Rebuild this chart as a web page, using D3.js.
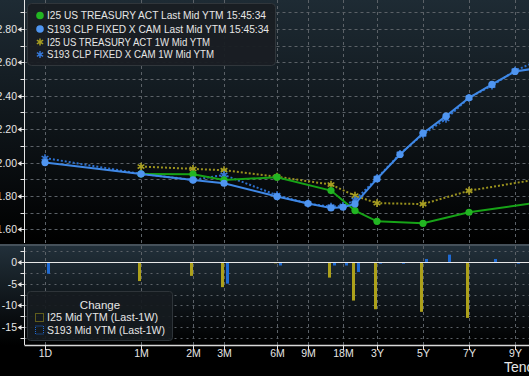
<!DOCTYPE html>
<html>
<head>
<meta charset="utf-8">
<script src="https://cdn.jsdelivr.net/npm/d3@7/dist/d3.min.js"></script>
<style>
  html, body { margin: 0; padding: 0; background: #000; }
  svg { display: block; font-family: "Liberation Sans Narrow", "Liberation Sans", sans-serif; }
</style>
</head>
<body>
<svg id="chart" width="529" height="376"></svg>
<script>
/* Yield curve snapshot: two curves, last vs 1W ago, plus bp change bars. */

// ---- data ----
var tenors     = ["1D", "1M", "2M", "3M", "6M", "9M", "1Y", "18M", "2Y", "3Y", "4Y", "5Y", "6Y", "7Y", "8Y", "9Y", "10Y"];
var tenorYears = [1 / 365, 1 / 12, 2 / 12, 0.25, 0.5, 0.75, 1, 1.5, 2, 3, 4, 5, 6, 7, 8, 9, 10];
var axisTenors = ["1D", "1M", "2M", "3M", "6M", "9M", "18M", "3Y", "5Y", "7Y", "9Y"];

var i25Last  = [null, 1.932, 1.930, 1.896, 1.912, null, 1.832, null, 1.712, 1.648, null, 1.636, null, 1.702, null, null, 1.760];
var i25Week  = [null, 1.976, 1.962, 1.954, 1.915, null, 1.868, null, 1.801, 1.757, null, 1.751, null, 1.831, null, null, 1.900];
var s193Last = [2.000, 1.932, 1.896, 1.876, 1.796, 1.754, 1.728, 1.732, 1.752, 1.902, 2.048, 2.176, 2.278, 2.388, 2.468, 2.546, 2.566];
var s193Week = [2.027, 1.932, 1.896, 1.926, 1.804, 1.754, 1.736, 1.740, 1.775, 1.906, 2.052, 2.169, 2.261, 2.388, 2.461, 2.550, 2.611];

var i25Chg  = [null, -4.4, -3.2, -5.8, -0.3, null, -3.6, null, -8.9, -10.9, null, -11.5, null, -12.9, null, null, -14.0];
var s193Chg = [-2.7, 0, 0, -5.0, -0.8, 0, -0.8, -0.8, -2.3, -0.4, -0.4, 0.7, 1.7, 0, 0.7, -0.4, -4.5];

var yieldMajor = [1.6, 1.8, 2.0, 2.2, 2.4, 2.6, 2.8];
var yieldMinor = [1.7, 1.9, 2.1, 2.3, 2.5, 2.7, 2.9];
var chgMajor   = [0, -5, -10, -15];
var chgMinor   = [2.5, -2.5, -7.5, -12.5, -17.5];

var legendTop = [
  "I25 US TREASURY ACT Last Mid YTM 15:45:34",
  "S193 CLP FIXED X CAM Last Mid YTM 15:45:34",
  "I25 US TREASURY ACT 1W Mid YTM",
  "S193 CLP FIXED X CAM 1W Mid YTM"
];
var legendBottom = ["I25 Mid YTM (Last-1W)", "S193 Mid YTM (Last-1W)"];

// ---- layout ----
var W = 529, H = 376;
var axisX = 24.5;
var panelTop = { y0: 0, y1: 243 };
var panelBot = { y0: 246, y1: 345 };
// Bloomberg tenor axis is not a plain time scale: piecewise spacing
var tenorSlots = [45, 141, 193, 224, 277, 308, 331, 343, 355, 377, 400, 423, 446, 469, 492, 515, 538];

var col = {
  green: "#17a317", greenDot: "#22b522",
  blue: "#3f88e6", blueDot: "#4f95f0",
  olive: "#9a921e", blueWk: "#2c6fcc",
  barY: "#ada11b", barB: "#1f6bd4",
  grid: "#5b6167", text: "#e6e6e6"
};

var x = d3.scaleLinear().domain(tenorYears).range(tenorSlots);
var yTop = d3.scaleLinear().domain([1.6, 2.8]).range([229.3, 29]);
var yBot = d3.scaleLinear().domain([0, -15]).range([262, 327]);

var svg = d3.select("#chart");
svg.append("rect").attr("width", W).attr("height", H).attr("fill", "#000");

var defs = svg.append("defs");
function grad(id, c0) {
  var g = defs.append("linearGradient").attr("id", id).attr("x1", 0).attr("y1", 0).attr("x2", 0).attr("y2", 1);
  g.append("stop").attr("offset", "0%").attr("stop-color", c0);
  g.append("stop").attr("offset", "100%").attr("stop-color", "#000");
}
grad("gTop", "#1e2b34");
grad("gBot", "#22303a");
defs.append("clipPath").attr("id", "clipTop").append("rect")
  .attr("x", axisX).attr("y", panelTop.y0).attr("width", W - axisX).attr("height", panelTop.y1 - panelTop.y0);

svg.append("rect").attr("x", 0).attr("y", panelTop.y0).attr("width", W).attr("height", panelTop.y1 - panelTop.y0).attr("fill", "url(#gTop)");
svg.append("rect").attr("x", 0).attr("y", panelBot.y0).attr("width", W).attr("height", panelBot.y1 - panelBot.y0).attr("fill", "url(#gBot)");
svg.append("rect").attr("x", 0).attr("y", panelTop.y1 + 1).attr("width", W).attr("height", 2).attr("fill", "#46515a");

// ---- grid ----
var grid = svg.append("g").attr("stroke", col.grid).attr("stroke-width", 1);
yieldMajor.concat(yieldMinor).forEach(function (v) {
  var yy = Math.round(yTop(v)) + 0.5;
  grid.append("line").attr("x1", axisX).attr("x2", W).attr("y1", yy).attr("y2", yy).attr("stroke-dasharray", "3,3");
});
chgMajor.concat(chgMinor).forEach(function (v) {
  if (v === 0) return;
  var yy = Math.round(yBot(v)) + 0.5;
  grid.append("line").attr("x1", axisX).attr("x2", W).attr("y1", yy).attr("y2", yy).attr("stroke-dasharray", "2,4");
});
axisTenors.forEach(function (t) {
  var xx = Math.round(x(tenorYears[tenors.indexOf(t)])) + 0.5;
  grid.append("line").attr("x1", xx).attr("x2", xx).attr("y1", panelTop.y0).attr("y2", panelTop.y1).attr("stroke-dasharray", "3,3");
  grid.append("line").attr("x1", xx).attr("x2", xx).attr("y1", panelBot.y0).attr("y2", panelBot.y1).attr("stroke-dasharray", "3,3");
});

// ---- left axes ----
var ax = svg.append("g").attr("fill", col.text).attr("stroke", col.text);
ax.append("line").attr("x1", axisX).attr("x2", axisX).attr("y1", panelTop.y0).attr("y2", panelTop.y1);
ax.append("line").attr("x1", axisX).attr("x2", axisX).attr("y1", panelBot.y0 + 1).attr("y2", panelBot.y1);
function majorTick(yy, label) {
  ax.append("path").attr("stroke", "none")
    .attr("d", "M17.5," + yy + "L21.5," + (yy - 2.5) + "L21.5," + (yy + 2.5) + "Z");
  ax.append("line").attr("x1", 21).attr("x2", axisX).attr("y1", yy).attr("y2", yy);
  ax.append("text").attr("stroke", "none").attr("x", 17).attr("y", yy).attr("dy", "0.35em")
    .attr("text-anchor", "end").attr("font-size", 10.5).text(label);
}
function minorTick(yy) {
  ax.append("line").attr("x1", 20.5).attr("x2", axisX).attr("y1", yy).attr("y2", yy);
}
yieldMajor.forEach(function (v) { majorTick(Math.round(yTop(v)) + 0.5, d3.format(".2f")(v)); });
yieldMinor.forEach(function (v) { minorTick(Math.round(yTop(v)) + 0.5); });
chgMajor.forEach(function (v) { majorTick(Math.round(yBot(v)) + 0.5, String(v)); });
chgMinor.forEach(function (v) { minorTick(Math.round(yBot(v)) + 0.5); });

// ---- change bars ----
var bars = svg.append("g");
tenors.forEach(function (t, i) {
  var xx = x(tenorYears[i]);
  [[i25Chg[i], -3, col.barY], [s193Chg[i], 2, col.barB]].forEach(function (b) {
    if (b[0] == null || b[0] === 0) return;
    var y0 = yBot(0), y1 = yBot(b[0]);
    bars.append("rect").attr("x", xx + b[1]).attr("width", 3)
      .attr("y", Math.min(y0, y1)).attr("height", Math.abs(y1 - y0)).attr("fill", b[2]);
  });
});
svg.append("line").attr("x1", axisX).attr("x2", W).attr("y1", yBot(0) + 0.5).attr("y2", yBot(0) + 0.5)
  .attr("stroke", "#e8e8e8").attr("stroke-width", 1.2);

// ---- bottom axis ----
svg.append("line").attr("x1", axisX).attr("x2", W).attr("y1", panelBot.y1 + 0.5).attr("y2", panelBot.y1 + 0.5)
  .attr("stroke", "#d8d8d8").attr("stroke-width", 1.5);
axisTenors.forEach(function (t) {
  var xx = Math.round(x(tenorYears[tenors.indexOf(t)])) + 0.5;
  svg.append("line").attr("x1", xx).attr("x2", xx).attr("y1", panelBot.y1).attr("y2", panelBot.y1 + 5).attr("stroke", col.text);
  svg.append("text").attr("x", xx).attr("y", 357).attr("text-anchor", "middle")
    .attr("font-size", 10.5).attr("fill", col.text).text(t);
});
svg.append("text").attr("x", 504).attr("y", 372).attr("font-size", 14).attr("fill", col.text).text("Tenor");

// ---- curves ----
function pts(arr) {
  return tenors.map(function (t, i) { return { yr: tenorYears[i], v: arr[i] }; })
    .filter(function (d) { return d.v != null; });
}
var line = d3.line().x(function (d) { return x(d.yr); }).y(function (d) { return yTop(d.v); });
var plot = svg.append("g").attr("clip-path", "url(#clipTop)");
var star = d3.symbol().type(d3.symbolAsterisk).size(42);

function curve(arr, stroke, dotted, markFill) {
  var p = pts(arr);
  plot.append("path").datum(p).attr("d", line).attr("fill", "none")
    .attr("stroke", stroke).attr("stroke-width", 2)
    .attr("stroke-dasharray", dotted ? "2,2" : null);
  var g = plot.append("g");
  p.forEach(function (d) {
    if (dotted) {
      g.append("path").attr("d", star).attr("transform", "translate(" + x(d.yr) + "," + yTop(d.v) + ")")
        .attr("fill", "none").attr("stroke", markFill).attr("stroke-width", 1.6);
    } else {
      g.append("circle").attr("cx", x(d.yr)).attr("cy", yTop(d.v)).attr("r", 3.6).attr("fill", markFill);
    }
  });
}
curve(i25Week, col.olive, true, "#a89f22");
curve(s193Week, col.blueWk, true, "#3577d6");
curve(i25Last, col.green, false, col.greenDot);
curve(s193Last, col.blue, false, col.blueDot);

// ---- legends ----
var lg = svg.append("g");
lg.append("rect").attr("x", 27.5).attr("y", 3.5).attr("width", 248).attr("height", 62).attr("rx", 4)
  .attr("fill", "#191e23").attr("fill-opacity", 0.95).attr("stroke", "#30363b");
var rowY = [15.5, 29, 42, 54.5];
var rowLen = [219, 222, 163, 167];
legendTop.forEach(function (s, i) {
  if (i < 2) {
    lg.append("circle").attr("cx", 40).attr("cy", rowY[i]).attr("r", 3.8).attr("fill", i === 0 ? col.greenDot : col.blueDot);
  } else {
    lg.append("path").attr("d", d3.symbol().type(d3.symbolAsterisk).size(36))
      .attr("transform", "translate(40," + rowY[i] + ")")
      .attr("fill", "none").attr("stroke", i === 2 ? "#a89f22" : "#3577d6").attr("stroke-width", 1.5);
  }
  lg.append("text").attr("x", 47).attr("y", rowY[i]).attr("dy", "0.35em").attr("font-size", 11)
    .attr("textLength", rowLen[i]).attr("lengthAdjust", "spacingAndGlyphs")
    .attr("fill", col.text).text(s);
});

var lb = svg.append("g");
lb.append("rect").attr("x", 27.5).attr("y", 291.5).attr("width", 145).attr("height", 49).attr("rx", 3)
  .attr("fill", "#161b1f").attr("fill-opacity", 0.92).attr("stroke", "#2e3439");
lb.append("text").attr("x", 100).attr("y", 305).attr("dy", "0.35em").attr("text-anchor", "middle")
  .attr("font-size", 11.5).attr("fill", col.text).text("Change");
[[317.5, col.barY], [330, col.barB]].forEach(function (r, i) {
  lb.append("rect").attr("x", 35.5).attr("y", r[0] - 4).attr("width", 8).attr("height", 8)
    .attr("fill", "none").attr("stroke", r[1]).attr("stroke-dasharray", "1,1");
  lb.append("text").attr("x", 47).attr("y", r[0]).attr("dy", "0.35em").attr("font-size", 11)
    .attr("textLength", i === 0 ? 111 : 118).attr("lengthAdjust", "spacingAndGlyphs")
    .attr("fill", col.text).text(legendBottom[i]);
});
</script>
</body>
</html>
